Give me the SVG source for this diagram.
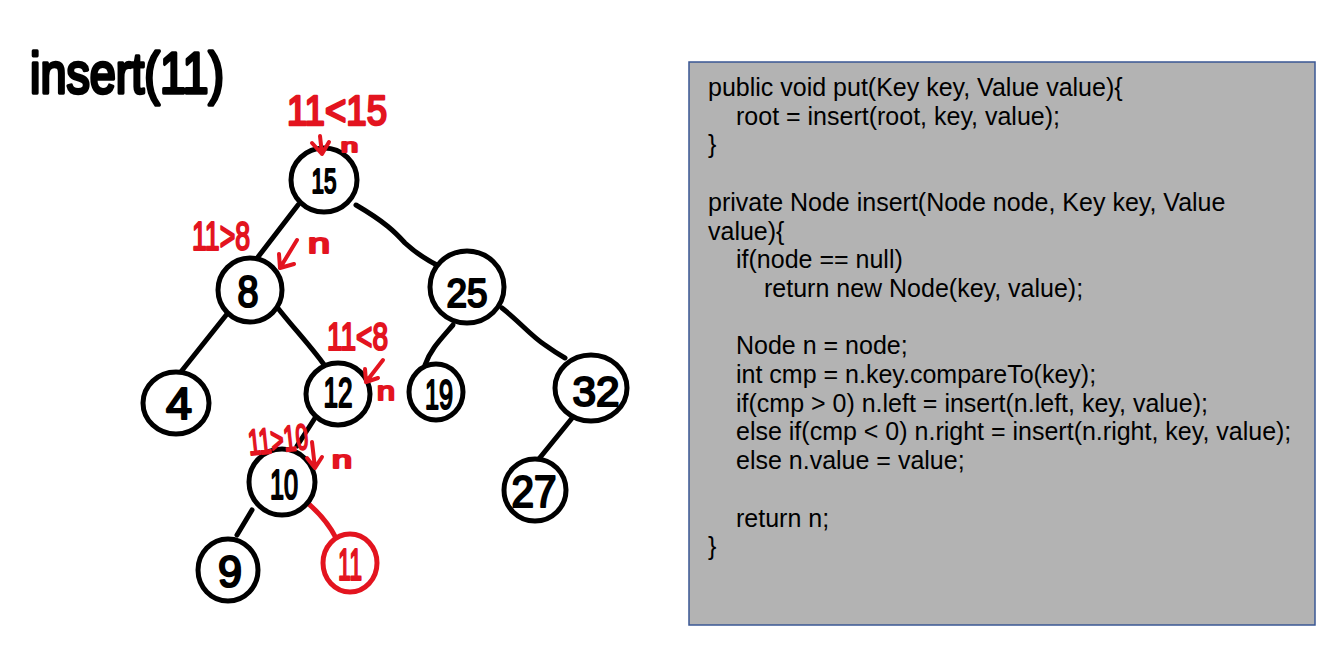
<svg xmlns="http://www.w3.org/2000/svg" width="1340" height="650" viewBox="0 0 1340 650">
<style>
.nd{fill:#fff;stroke:#000;stroke-width:5}
.ndr{fill:#fff;stroke:#e3141f;stroke-width:5}
.ed{fill:none;stroke:#000;stroke-width:5;stroke-linecap:round}
.edr{fill:none;stroke:#e3141f;stroke-width:5;stroke-linecap:round}
.lb{font-family:"Liberation Sans",Arial,sans-serif;fill:#000;stroke:#000;stroke-width:2.2;stroke-linejoin:round;text-anchor:middle}
.rt{font-family:"Liberation Sans",Arial,sans-serif;fill:#e3141f;stroke:#e3141f;stroke-width:2.2;stroke-linejoin:round}
.ar{fill:none;stroke:#e3141f;stroke-width:4;stroke-linecap:round;stroke-linejoin:round}
.code{font-family:"Liberation Sans",Arial,sans-serif;font-size:25px;fill:#000}
</style>
<rect width="1340" height="650" fill="#fff"/>
<g id="title">
<text class="lb" style="text-anchor:start;stroke-width:2.8" font-size="46" transform="translate(30,93) scale(1,1.25)" textLength="194" lengthAdjust="spacingAndGlyphs">insert(11)</text>
</g>
<g id="connectors">
<path class="ed" d="M298,205 L258,257"/>
<path class="ed" d="M356,205 C385,222 395,232 405,243 C418,255 430,262 443,268"/>
<path class="ed" d="M227,314 L180,373"/>
<path class="ed" d="M277,307 C295,330 310,345 325,366"/>
<path class="ed" d="M315,418 L297,446"/>
<path class="ed" d="M252,510 L237,535"/>
<path class="edr" d="M298,495 C315,508 328,522 336,538"/>
<path class="ed" d="M453,325 C440,340 430,350 425,365"/>
<path class="ed" d="M502,308 C520,322 530,335 545,345 C552,350 558,354 565,358"/>
<path class="ed" d="M573,417 L538,460"/>
</g>
<g id="node-15"><ellipse class="nd" cx="324" cy="180" rx="33" ry="32"/><text class="lb" x="324" y="193" font-size="35" textLength="25" lengthAdjust="spacingAndGlyphs">15</text></g>
<g id="node-8"><ellipse class="nd" cx="250" cy="290" rx="32" ry="32"/><text class="lb" x="248" y="307" font-size="44" textLength="21" lengthAdjust="spacingAndGlyphs">8</text></g>
<g id="node-25"><ellipse class="nd" cx="467" cy="287" rx="37" ry="36"/><text class="lb" x="467" y="307" font-size="40" textLength="41" lengthAdjust="spacingAndGlyphs">25</text></g>
<g id="node-4"><ellipse class="nd" cx="176" cy="403" rx="33" ry="31"/><text class="lb" x="179" y="419" font-size="44" textLength="26" lengthAdjust="spacingAndGlyphs">4</text></g>
<g id="node-12"><ellipse class="nd" cx="338" cy="394" rx="32" ry="31"/><text class="lb" x="338" y="407" font-size="42" textLength="29" lengthAdjust="spacingAndGlyphs">12</text></g>
<g id="node-19"><ellipse class="nd" cx="436" cy="392" rx="27" ry="28"/><text class="lb" x="439" y="409" font-size="42" textLength="28" lengthAdjust="spacingAndGlyphs">19</text></g>
<g id="node-32"><ellipse class="nd" cx="591" cy="388" rx="36" ry="33"/><text class="lb" x="596" y="406" font-size="42" textLength="47" lengthAdjust="spacingAndGlyphs">32</text></g>
<g id="node-10"><ellipse class="nd" cx="282" cy="482" rx="33" ry="33"/><text class="lb" x="284" y="499" font-size="42" textLength="28" lengthAdjust="spacingAndGlyphs">10</text></g>
<g id="node-27"><ellipse class="nd" cx="535" cy="490" rx="31" ry="31"/><text class="lb" x="534" y="507" font-size="44" textLength="45" lengthAdjust="spacingAndGlyphs">27</text></g>
<g id="node-9"><ellipse class="nd" cx="228" cy="570" rx="30" ry="31"/><text class="lb" x="230" y="587" font-size="44" textLength="24" lengthAdjust="spacingAndGlyphs">9</text></g>
<g id="node-11"><ellipse class="ndr" cx="350" cy="563" rx="27" ry="29"/><text class="lb" style="fill:#e3141f;stroke:#e3141f" x="350" y="580" font-size="44" textLength="24" lengthAdjust="spacingAndGlyphs">11</text></g>
<g id="annotations">
<text class="rt" font-size="36" textLength="100" lengthAdjust="spacingAndGlyphs" transform="translate(287,125) scale(1,1.2)">11&lt;15</text>
<path class="ar" d="M320,136 L322,154 M312,143 L322,154 L329,142"/>
<text class="rt" x="341" y="152" font-size="19" textLength="17" lengthAdjust="spacingAndGlyphs">n</text>
<text class="rt" x="192" y="250" font-size="40" textLength="58" lengthAdjust="spacingAndGlyphs">11&gt;8</text>
<path class="ar" d="M297,240 L280,268 M279,254 L280,268 L294,264"/>
<text class="rt" x="308" y="253" font-size="28" textLength="22" lengthAdjust="spacingAndGlyphs">n</text>
<text class="rt" x="327" y="350" font-size="38" textLength="61" lengthAdjust="spacingAndGlyphs">11&lt;8</text>
<path class="ar" d="M383,360 L366,382 M365,369 L366,382 L378,378"/>
<text class="rt" x="377" y="400" font-size="26" textLength="18" lengthAdjust="spacingAndGlyphs">n</text>
<text class="rt" x="248" y="452" font-size="36" textLength="60" lengthAdjust="spacingAndGlyphs" transform="rotate(-6 278 440)">11&gt;10</text>
<path class="ar" d="M312,442 L315,468 M307,458 L315,468 L322,457"/>
<text class="rt" x="332" y="468" font-size="24" textLength="20" lengthAdjust="spacingAndGlyphs">n</text>
</g>
<g id="code-box">
<rect x="689" y="62" width="626" height="563" fill="#b3b3b3" stroke="#3a5794" stroke-width="1.5"/>
<text class="code" x="708" y="96">public void put(Key key, Value value){</text>
<text class="code" x="736" y="124.7">root = insert(root, key, value);</text>
<text class="code" x="708" y="153.4">}</text>
<text class="code" x="708" y="210.8">private Node insert(Node node, Key key, Value</text>
<text class="code" x="708" y="239.5">value){</text>
<text class="code" x="736" y="268.2">if(node == null)</text>
<text class="code" x="764" y="296.9">return new Node(key, value);</text>
<text class="code" x="736" y="354.3">Node n = node;</text>
<text class="code" x="736" y="383">int cmp = n.key.compareTo(key);</text>
<text class="code" x="736" y="411.7">if(cmp &gt; 0) n.left = insert(n.left, key, value);</text>
<text class="code" x="736" y="440.4">else if(cmp &lt; 0) n.right = insert(n.right, key, value);</text>
<text class="code" x="736" y="469.1">else n.value = value;</text>
<text class="code" x="736" y="526.5">return n;</text>
<text class="code" x="708" y="555.2">}</text>
</g>
</svg>
